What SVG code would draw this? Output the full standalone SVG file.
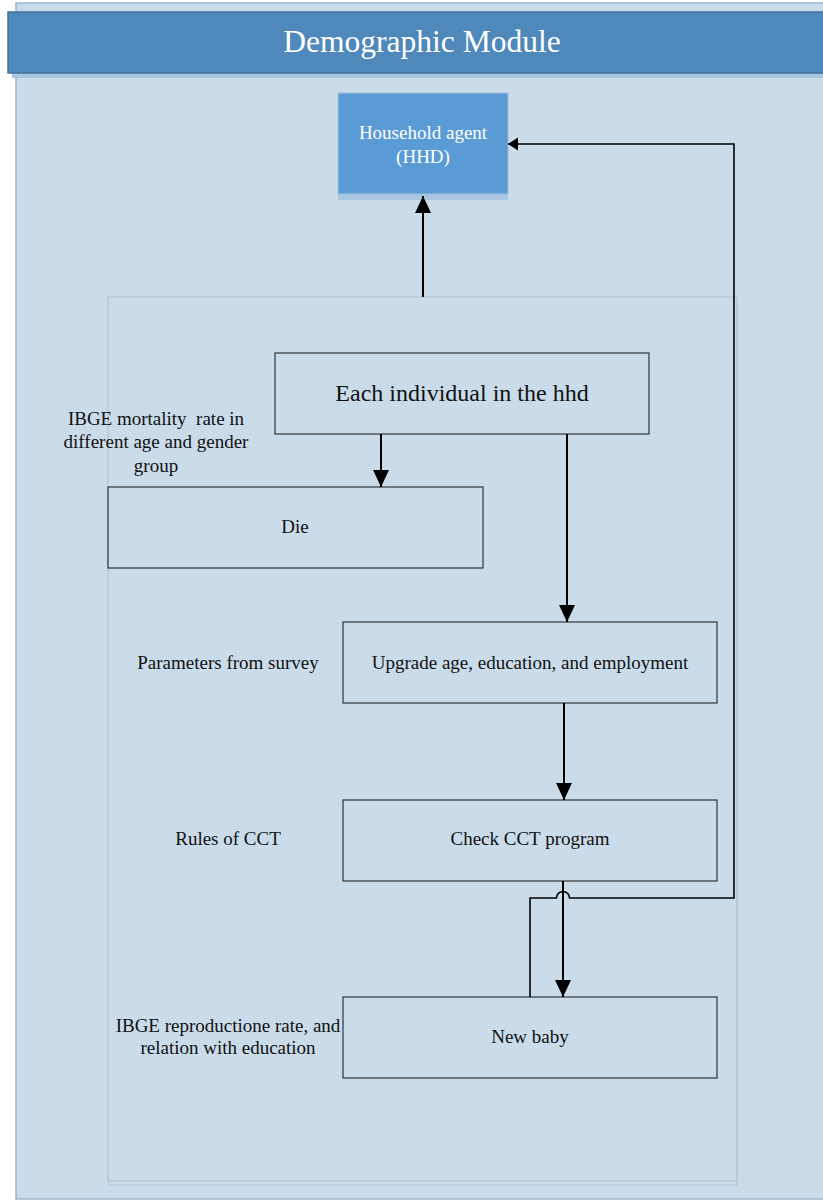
<svg xmlns="http://www.w3.org/2000/svg" width="823" height="1200" viewBox="0 0 823 1200">
  <style>
    .serif { font-family: "Liberation Serif", "Times New Roman", serif; }
    .box { fill: #cadcea; stroke: #333333; stroke-width: 1.2; }
    .lbl { font-size: 19px; fill: #111111; text-anchor: middle; }
    .conn { fill: none; stroke: #000000; stroke-width: 2; }
    .thin { fill: none; stroke: #000000; stroke-width: 1.6; }
  </style>
  <defs>
    <marker id="arr" markerUnits="userSpaceOnUse" markerWidth="18" markerHeight="18" viewBox="0 0 18 18" refX="17" refY="8" orient="auto">
      <path d="M0,0 L17,8 L0,16 z" fill="#000000"/>
    </marker>
    <marker id="arrS" markerUnits="userSpaceOnUse" markerWidth="12" markerHeight="14" viewBox="0 0 12 14" refX="10" refY="6.5" orient="auto">
      <path d="M0,0 L10,6.5 L0,13 z" fill="#000000"/>
    </marker>
  </defs>

  <rect width="823" height="1200" fill="#ffffff"/>

  <!-- outer panel -->
  <g id="outer-panel">
    <rect x="16" y="3" width="820" height="1196" fill="#cadcea" stroke="#9db8cf" stroke-width="1.5"/>
  </g>

  <!-- header -->
  <g id="header">
    <rect x="12" y="72" width="815" height="6" fill="#aac6df"/>
    <rect x="8" y="12" width="820" height="61" fill="#4f88bb" stroke="#41719c" stroke-width="1.5"/>
    <text x="422" y="52" class="serif" font-size="31.5" fill="#ffffff" text-anchor="middle">Demographic Module</text>
  </g>

  <!-- inner panel -->
  <g id="inner-panel">
    <rect x="109" y="302" width="628" height="883" fill="none" stroke="#b7cbe0" stroke-width="1.5"/>
    <rect x="108" y="297" width="629" height="884" fill="#cadcea" stroke="#bcc5cf" stroke-width="1.5"/>
  </g>

  <!-- HHD -->
  <g id="node-hhd">
    <rect x="338" y="94" width="170" height="106" fill="#a9c6e3"/>
    <rect x="338" y="93" width="170" height="101" fill="#5b9bd5" stroke="#a3bfd9" stroke-width="1"/>
    <text x="423" y="139" class="serif lbl" style="fill:#ffffff">Household agent</text>
    <text x="423" y="163" class="serif lbl" style="fill:#ffffff">(HHD)</text>
  </g>

  <g id="node-each">
    <rect x="275" y="353" width="374" height="81" class="box"/>
    <text x="462" y="401" class="serif lbl" style="font-size:24px">Each individual in the hhd</text>
  </g>

  <g id="node-die">
    <rect x="108" y="487" width="375" height="81" class="box"/>
    <text x="295" y="533" class="serif lbl">Die</text>
  </g>

  <g id="node-upgrade">
    <rect x="343" y="622" width="374" height="81" class="box"/>
    <text x="530" y="669" class="serif lbl">Upgrade age, education, and employment</text>
  </g>

  <g id="node-check">
    <rect x="343" y="800" width="374" height="81" class="box"/>
    <text x="530" y="845" class="serif lbl">Check CCT program</text>
  </g>

  <g id="node-baby">
    <rect x="343" y="997" width="374" height="81" class="box"/>
    <text x="530" y="1043" class="serif lbl">New baby</text>
  </g>

  <!-- side labels -->
  <g id="label-mortality">
    <text x="156" y="425" class="serif lbl" xml:space="preserve" style="white-space:pre">IBGE mortality  rate in</text>
    <text x="156" y="448" class="serif lbl">different age and gender</text>
    <text x="156" y="472" class="serif lbl">group</text>
  </g>
  <g id="label-survey">
    <text x="228" y="669" class="serif lbl">Parameters from survey</text>
  </g>
  <g id="label-cct">
    <text x="228" y="845" class="serif lbl">Rules of CCT</text>
  </g>
  <g id="label-repro">
    <text x="228" y="1032" class="serif lbl">IBGE reproductione rate, and</text>
    <text x="228" y="1054" class="serif lbl">relation with education</text>
  </g>

  <!-- connectors -->
  <g id="connectors">
    <line x1="423" y1="297" x2="423" y2="196" class="conn" marker-end="url(#arr)"/>
    <line x1="381" y1="434" x2="381" y2="487" class="conn" marker-end="url(#arr)"/>
    <line x1="567" y1="434" x2="567" y2="622" class="conn" marker-end="url(#arr)"/>
    <line x1="564" y1="703" x2="564" y2="800" class="conn" marker-end="url(#arr)"/>
    <line x1="563" y1="881" x2="563" y2="997" class="conn" marker-end="url(#arr)"/>
    <path d="M530,997 V898 H556.5 A6.5,6.5 0 0 1 569.5,898 H734 V144 H508" class="thin" marker-end="url(#arrS)"/>
  </g>
</svg>
